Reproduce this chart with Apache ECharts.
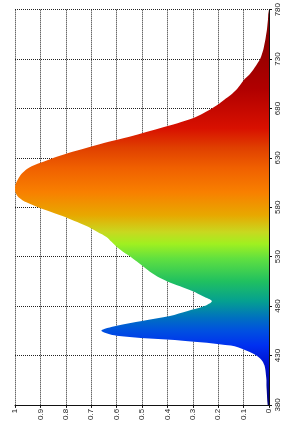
<!DOCTYPE html>
<html>
<head>
<meta charset="utf-8">
<script src="https://cdn.jsdelivr.net/npm/echarts@6/dist/echarts.min.js"></script>
<style>
  html, body { margin: 0; padding: 0; background: #fff; }
  #chart { width: 286px; height: 423px; }
</style>
</head>
<body>
<div id="chart"></div>
<script>
// wavelength (nm), 5 nm steps
const wavelengths = [];
for (let w = 380; w <= 780; w += 5) wavelengths.push(String(w));

// relative intensity
const intensity = [
  0.005, 0.007, 0.008, 0.009, 0.010, 0.010, 0.012, 0.014, 0.018, 0.028, // 380-425
  0.050, 0.090, 0.150, 0.340, 0.600, 0.660, 0.600, 0.500, 0.390, 0.320, // 430-475
  0.255, 0.225, 0.260, 0.300, 0.350, 0.400, 0.440, 0.470, 0.495, 0.520, // 480-525
  0.545, 0.575, 0.600, 0.620, 0.640, 0.675, 0.710, 0.755, 0.800, 0.855, // 530-575
  0.910, 0.955, 0.985, 0.998, 1.000, 0.995, 0.985, 0.970, 0.945, 0.900, // 580-625
  0.850, 0.790, 0.720, 0.650, 0.570, 0.500, 0.430, 0.360, 0.300, 0.260, // 630-675
  0.225, 0.195, 0.170, 0.145, 0.125, 0.110, 0.095, 0.075, 0.060, 0.047, // 680-725
  0.035, 0.028, 0.022, 0.018, 0.014, 0.011, 0.008, 0.006, 0.004, 0.003, // 730-775
  0.002                                                                 // 780
];

// spectrum colours along the wavelength axis
const colorStops = [
  [380, "#000070"], [420, "#0010d0"], [440, "#0030f0"], [455, "#0050e0"],
  [468, "#0070c0"], [485, "#05a090"], [505, "#20c060"], [528, "#60e040"],
  [543, "#a0f020"], [555, "#c8d820"], [572, "#e8a800"], [595, "#f88000"],
  [620, "#f06000"], [640, "#e04000"], [660, "#d81000"], [700, "#b00000"],
  [780, "#7a0000"]
];

const chart = echarts.init(document.getElementById("chart"));

const gridLine = { show: true, lineStyle: { color: "#222", type: "dotted", width: 1 } };
const labelFont = { fontFamily: "Liberation Sans", fontSize: 8, color: "#222" };

chart.setOption({
  animation: false,
  grid: { left: 15, right: 17, top: 5, bottom: 18 },
  xAxis: {
    type: "value",
    min: 0,
    max: 1,
    interval: 0.1,
    inverse: true,
    position: "bottom",
    axisLine: { show: true, lineStyle: { color: "#111", width: 1 } },
    axisTick: { show: true, length: 3, lineStyle: { color: "#111" } },
    axisLabel: Object.assign({ rotate: 90, margin: 4 }, labelFont),
    splitLine: gridLine,
  },
  yAxis: {
    type: "category",
    position: "right",
    boundaryGap: false,
    data: wavelengths,
    axisLine: { show: true, lineStyle: { color: "#111", width: 1 } },
    axisTick: { show: true, interval: 9, length: 3, lineStyle: { color: "#111" } },
    axisLabel: Object.assign({ rotate: 90, interval: 9, margin: 5 }, labelFont),
    splitLine: Object.assign({ interval: 9 }, gridLine),
  },
  series: [
    {
      type: "line",
      data: intensity,
      smooth: 0.3,
      showSymbol: false,
      lineStyle: { width: 0 },
      areaStyle: {
        opacity: 1,
        color: new echarts.graphic.LinearGradient(
          0, 1, 0, 0,
          colorStops.map(s => ({ offset: (s[0] - 380) / 400, color: s[1] }))
        ),
      },
      z: 3,
    },
  ],
});
</script>
</body>
</html>
